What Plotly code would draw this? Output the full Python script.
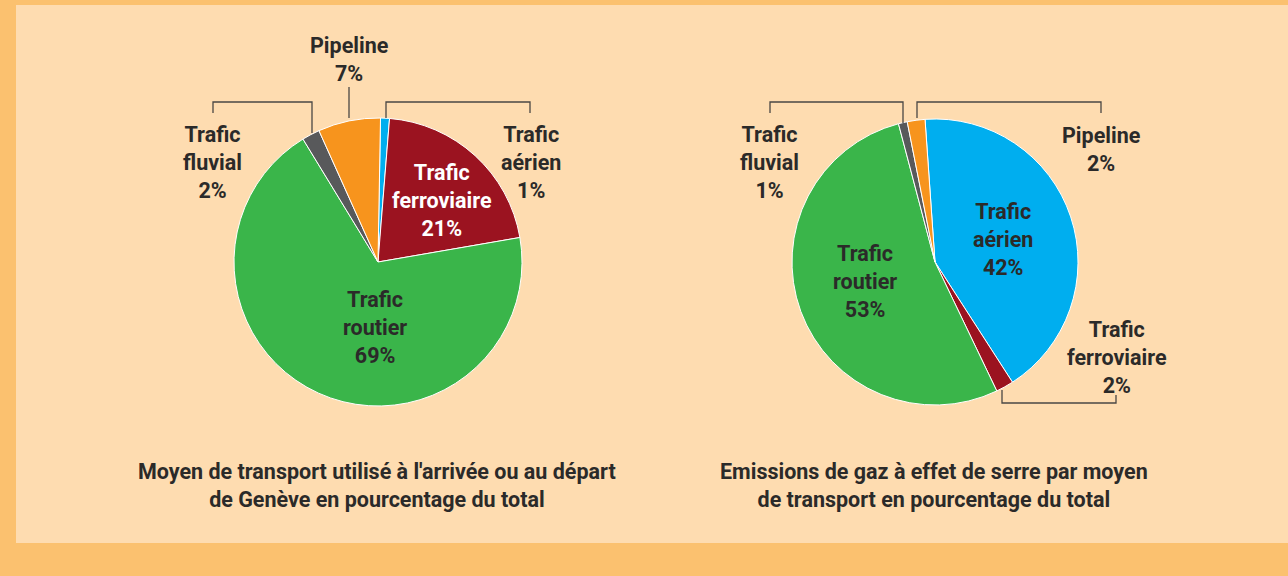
"""
Genève transport: share of traffic and greenhouse gas emissions, two pies
"""

import plotly.graph_objects as go

W, H = 1288, 576

# slices in clockwise order, starting at 12 o'clock
modes = [
    "Trafic aérien",
    "Trafic ferroviaire",
    "Trafic routier",
    "Trafic fluvial",
    "Pipeline",
]
share_transport = [1, 21, 69, 2, 7]
share_emissions = [42, 2, 53, 1, 2]

colors = ["#00aeef", "#9b1320", "#3ab54a", "#58595b", "#f7941d"]

title_transport = "Moyen de transport utilisé à l'arrivée ou au départ<br>de Genève en pourcentage du total"
title_emissions = "Emissions de gaz à effet de serre par moyen<br>de transport en pourcentage du total"

FONT = "Liberation Sans Narrow, Arial Narrow, Roboto, sans-serif"
DARK = "#2b2a29"


def px(x):
    return x / W


def py(y):
    return 1 - y / H


def pie_domain(cx, cy, r):
    return dict(x=[px(cx - r), px(cx + r)], y=[py(cy + r), py(cy - r)])


fig = go.Figure()

fig.add_trace(
    go.Pie(
        labels=modes,
        values=share_transport,
        sort=False,
        direction="clockwise",
        rotation=1,
        marker=dict(colors=colors, line=dict(color="white", width=1)),
        textinfo="none",
        hoverinfo="label+percent",
        domain=pie_domain(378, 262, 144),
        showlegend=False,
    )
)

fig.add_trace(
    go.Pie(
        labels=modes,
        values=share_emissions,
        sort=False,
        direction="clockwise",
        rotation=-4,
        marker=dict(colors=colors, line=dict(color="white", width=1)),
        textinfo="none",
        hoverinfo="label+percent",
        domain=pie_domain(935, 262, 143),
        showlegend=False,
    )
)


def label(x, y, text, color=DARK, size=21.5):
    fig.add_annotation(
        x=px(x), y=py(y), xref="paper", yref="paper",
        text=f"<b>{text}</b>", showarrow=False,
        xanchor="center", yanchor="middle",
        font=dict(family=FONT, size=size, color=color),
    )


def pct(v):
    return f"{v}%"


# left pie labels
label(349, 59, f"Pipeline<br>{pct(share_transport[4])}")
label(212, 162, f"Trafic<br>fluvial<br>{pct(share_transport[3])}")
label(531, 162, f"Trafic<br>aérien<br>{pct(share_transport[0])}")
label(442, 200, f"Trafic<br>ferroviaire<br>{pct(share_transport[1])}", color="white")
label(375, 327, f"Trafic<br>routier<br>{pct(share_transport[2])}")

# right pie labels
label(769, 162, f"Trafic<br>fluvial<br>{pct(share_emissions[3])}")
label(1101, 149, f"Pipeline<br>{pct(share_emissions[4])}")
label(1003, 239, f"Trafic<br>aérien<br>{pct(share_emissions[0])}")
label(865, 281, f"Trafic<br>routier<br>{pct(share_emissions[2])}")
label(1117, 357, f"Trafic<br>ferroviaire<br>{pct(share_emissions[1])}")

# chart captions
label(377, 485, title_transport, size=21.5)
label(934, 485, title_emissions, size=21.5)


def leader(points):
    path = "M " + " L ".join(f"{px(x)},{py(y)}" for x, y in points)
    fig.add_shape(
        type="path", path=path, xref="paper", yref="paper",
        line=dict(color="#4a4744", width=1.3), layer="above",
    )


leader([(349, 87), (349, 118)])
leader([(213, 113), (213, 102), (312, 102), (312, 133)])
leader([(386, 118), (386, 102), (530, 102), (530, 113)])
leader([(770, 113), (770, 102), (903, 102), (903, 123)])
leader([(917, 118), (917, 102), (1101, 102), (1101, 113)])
leader([(1002, 390), (1002, 403), (1116, 403), (1116, 395)])

# inner panel
fig.add_shape(
    type="rect", xref="paper", yref="paper",
    x0=px(16), x1=px(W + 2), y0=py(543), y1=py(5),
    fillcolor="#fedcb0", line_width=0, layer="below",
)

fig.update_layout(
    width=W,
    height=H,
    margin=dict(l=0, r=0, t=0, b=0),
    paper_bgcolor="#fbc16f",
    plot_bgcolor="rgba(0,0,0,0)",
    font=dict(family=FONT, color=DARK),
)

fig.write_html(
    "out.html",
    config=dict(displayModeBar=False),
    post_script=(
        "document.body.style.margin='0';"
        "document.body.style.background='#fbc16f';"
    ),
)
